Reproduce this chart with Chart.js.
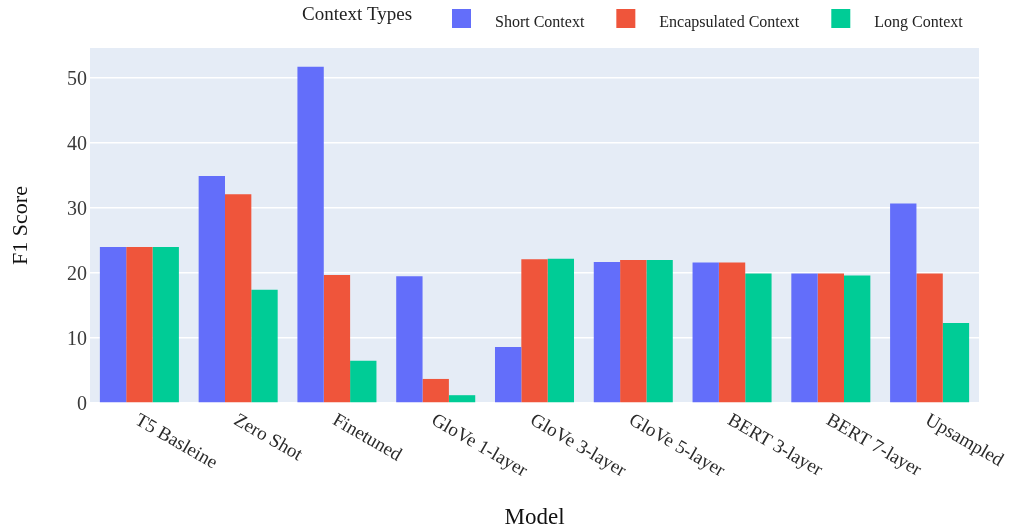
<!DOCTYPE html>
<html>
<head>
<meta charset="utf-8">
<title>F1 Score by Model</title>
<script src="https://cdn.jsdelivr.net/npm/chart.js@4/dist/chart.umd.min.js"></script>
<style>
    html, body { margin: 0; padding: 0; background: #fff; }
    #chart-wrap { width: 1010px; height: 529px; position: relative; }
</style>
</head>
<body>
<div id="chart-wrap"><canvas id="f1-chart"></canvas></div>
<script>
'use strict';

// Data
const models = ['T5 Basleine', 'Zero Shot', 'Finetuned', 'GloVe 1-layer', 'GloVe 3-layer',
    'GloVe 5-layer', 'BERT 3-layer', 'BERT 7-layer', 'Upsampled'];
const shortContext = [24.0, 34.9, 51.7, 19.5, 8.6, 21.7, 21.6, 19.9, 30.7];
const encapsulatedContext = [24.0, 32.1, 19.7, 3.7, 22.1, 22.0, 21.6, 19.9, 19.9];
const longContext = [24.0, 17.4, 6.5, 1.2, 22.2, 22.0, 19.9, 19.6, 12.3];
const seriesNames = ['Short Context', 'Encapsulated Context', 'Long Context'];
const yTicks = [0, 10, 20, 30, 40, 50];

const FONT = '"Liberation Serif", "Times New Roman", serif';
const colors = ['#636EFA', '#EF553B', '#00CC96'];

// Plot background (plotly style)
const plotBackground = {
    id: 'plotBackground',
    beforeDraw(chart) {
        const { ctx, chartArea } = chart;
        ctx.save();
        ctx.fillStyle = '#E5ECF6';
        ctx.fillRect(chartArea.left, chartArea.top,
            chartArea.right - chartArea.left, chartArea.bottom - chartArea.top);
        ctx.restore();
    }
};

// Slanted category labels, starting at the tick and going down-right
const slantedLabels = {
    id: 'slantedLabels',
    afterDraw(chart) {
        const { ctx } = chart;
        const xScale = chart.scales.x;
        ctx.save();
        ctx.font = '19px ' + FONT;
        ctx.fillStyle = '#2b2b2b';
        ctx.textAlign = 'left';
        ctx.textBaseline = 'alphabetic';
        chart.data.labels.forEach((label, i) => {
            const x = xScale.getPixelForTick(i);
            ctx.save();
            ctx.translate(x + 1, xScale.top + 9);
            ctx.rotate(Math.PI / 6);
            ctx.fillText(label, 0, 13);
            ctx.restore();
        });
        ctx.restore();
    }
};

// Horizontal legend with a title on the left
const topLegend = {
    id: 'topLegend',
    afterDraw(chart) {
        const { ctx } = chart;
        ctx.save();
        ctx.fillStyle = '#222';
        ctx.textBaseline = 'alphabetic';
        ctx.font = '19px ' + FONT;
        ctx.fillText('Context Types', 302, 20);

        let x = 452;
        ctx.font = '16px ' + FONT;
        chart.data.datasets.forEach(ds => {
            ctx.fillStyle = ds.backgroundColor;
            ctx.fillRect(x, 9, 19, 19);
            ctx.fillStyle = '#222';
            ctx.fillText(ds.label, x + 43, 26.5);
            x += 43 + ctx.measureText(ds.label).width + 32;
        });
        ctx.restore();
    }
};

function initChart() {
    const ctx = document.getElementById('f1-chart').getContext('2d');
    const values = [shortContext, encapsulatedContext, longContext];

    return new Chart(ctx, {
        type: 'bar',
        data: {
            labels: models,
            datasets: seriesNames.map((name, i) => ({
                label: name,
                data: values[i],
                backgroundColor: colors[i],
                borderWidth: 0
            }))
        },
        options: {
            responsive: true,
            maintainAspectRatio: false,
            animation: false,
            layout: {
                padding: { top: 48, right: 31, bottom: 0, left: 0 }
            },
            datasets: {
                bar: { categoryPercentage: 0.8, barPercentage: 1.0 }
            },
            plugins: {
                legend: { display: false },
                tooltip: { enabled: false }
            },
            scales: {
                x: {
                    grid: { display: false },
                    border: { display: false },
                    ticks: { display: false },
                    afterFit(scale) { scale.height = 126; },
                    title: {
                        display: true,
                        text: 'Model',
                        color: '#111',
                        font: { family: FONT, size: 23, lineHeight: 1.0 },
                        padding: 0
                    }
                },
                y: {
                    min: 0,
                    max: 54.6,
                    afterFit(scale) { scale.width = 90; },
                    afterBuildTicks(scale) {
                        scale.ticks = yTicks.map(v => ({ value: v }));
                    },
                    grid: {
                        color: '#fff',
                        lineWidth: 1.5,
                        drawTicks: false
                    },
                    border: { display: false },
                    ticks: {
                        padding: 3,
                        labelOffset: 2,
                        color: '#3a3a3a',
                        font: { family: FONT, size: 20 }
                    },
                    title: {
                        display: true,
                        text: 'F1 Score',
                        color: '#111',
                        font: { family: FONT, size: 22 },
                        padding: { top: 8, bottom: 0 }
                    }
                }
            }
        },
        plugins: [plotBackground, slantedLabels, topLegend]
    });
}

initChart();
</script>
</body>
</html>
